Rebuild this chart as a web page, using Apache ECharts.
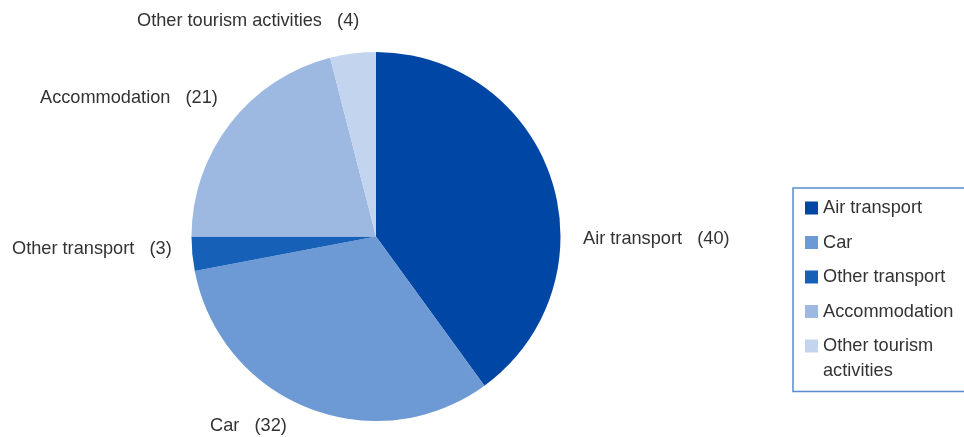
<!DOCTYPE html>
<html>
<head>
<meta charset="utf-8">
<script src="https://cdn.jsdelivr.net/npm/echarts@6/dist/echarts.min.js"></script>
<style>html,body{margin:0;padding:0;background:#fff}#c{width:964px;height:437px}</style>
</head>
<body>
<div id="c"></div>
<script>
const categories = ['Air transport', 'Car', 'Other transport', 'Accommodation', 'Other tourism activities'];
const values = [40, 32, 3, 21, 4];
const colors = ['#0046a5', '#6d99d4', '#1660b7', '#9db8e1', '#c3d4ee'];

const labelPos = [
  {x: 583, y: 239},
  {x: 210, y: 426},
  {x: 12, y: 249},
  {x: 40, y: 98},
  {x: 137, y: 21}
];

const FONT = 'Liberation Sans, Arial, sans-serif';
const FS = 18.2;

const chart = echarts.init(document.getElementById('c'));
chart.setOption({
  animation: false,
  color: colors,
  legend: {
    orient: 'vertical',
    left: 793,
    top: 188,
    padding: [7.5, 12, 11.5, 12],
    borderColor: '#5a8bd0',
    borderWidth: 1.5,
    borderRadius: 0,
    itemWidth: 13,
    itemHeight: 13,
    itemGap: 9.5,
    itemTextGap: 15,
    icon: 'rect',
    textStyle: {
      fontFamily: FONT, fontSize: FS, color: '#333', lineHeight: 25,
      rich: {
        a: {fontFamily: FONT, fontSize: FS, color: '#333', lineHeight: 25},
        b: {fontFamily: FONT, fontSize: FS, color: '#333', lineHeight: 0, padding: [25, 0, 0, 0]}
      }
    },
    data: categories,
    formatter: n => n === 'Other tourism activities' ? '{a|Other tourism}\n{b|activities}' : n
  },
  series: [{
    type: 'pie',
    center: [376, 236.5],
    radius: 184.5,
    startAngle: 90,
    clockwise: true,
    silent: true,
    data: categories.map((n, i) => ({name: n, value: values[i]})),
    label: {
      show: true,
      position: 'outside',
      overflow: 'none',
      formatter: p => p.name + '   (' + p.value + ')',
      fontFamily: FONT,
      fontSize: FS,
      color: '#333'
    },
    labelLine: {show: false},
    labelLayout: p => ({
      x: labelPos[p.dataIndex].x,
      y: labelPos[p.dataIndex].y,
      align: 'left',
      verticalAlign: 'middle'
    }),
    itemStyle: {borderWidth: 0}
  }]
});
</script>
</body>
</html>
